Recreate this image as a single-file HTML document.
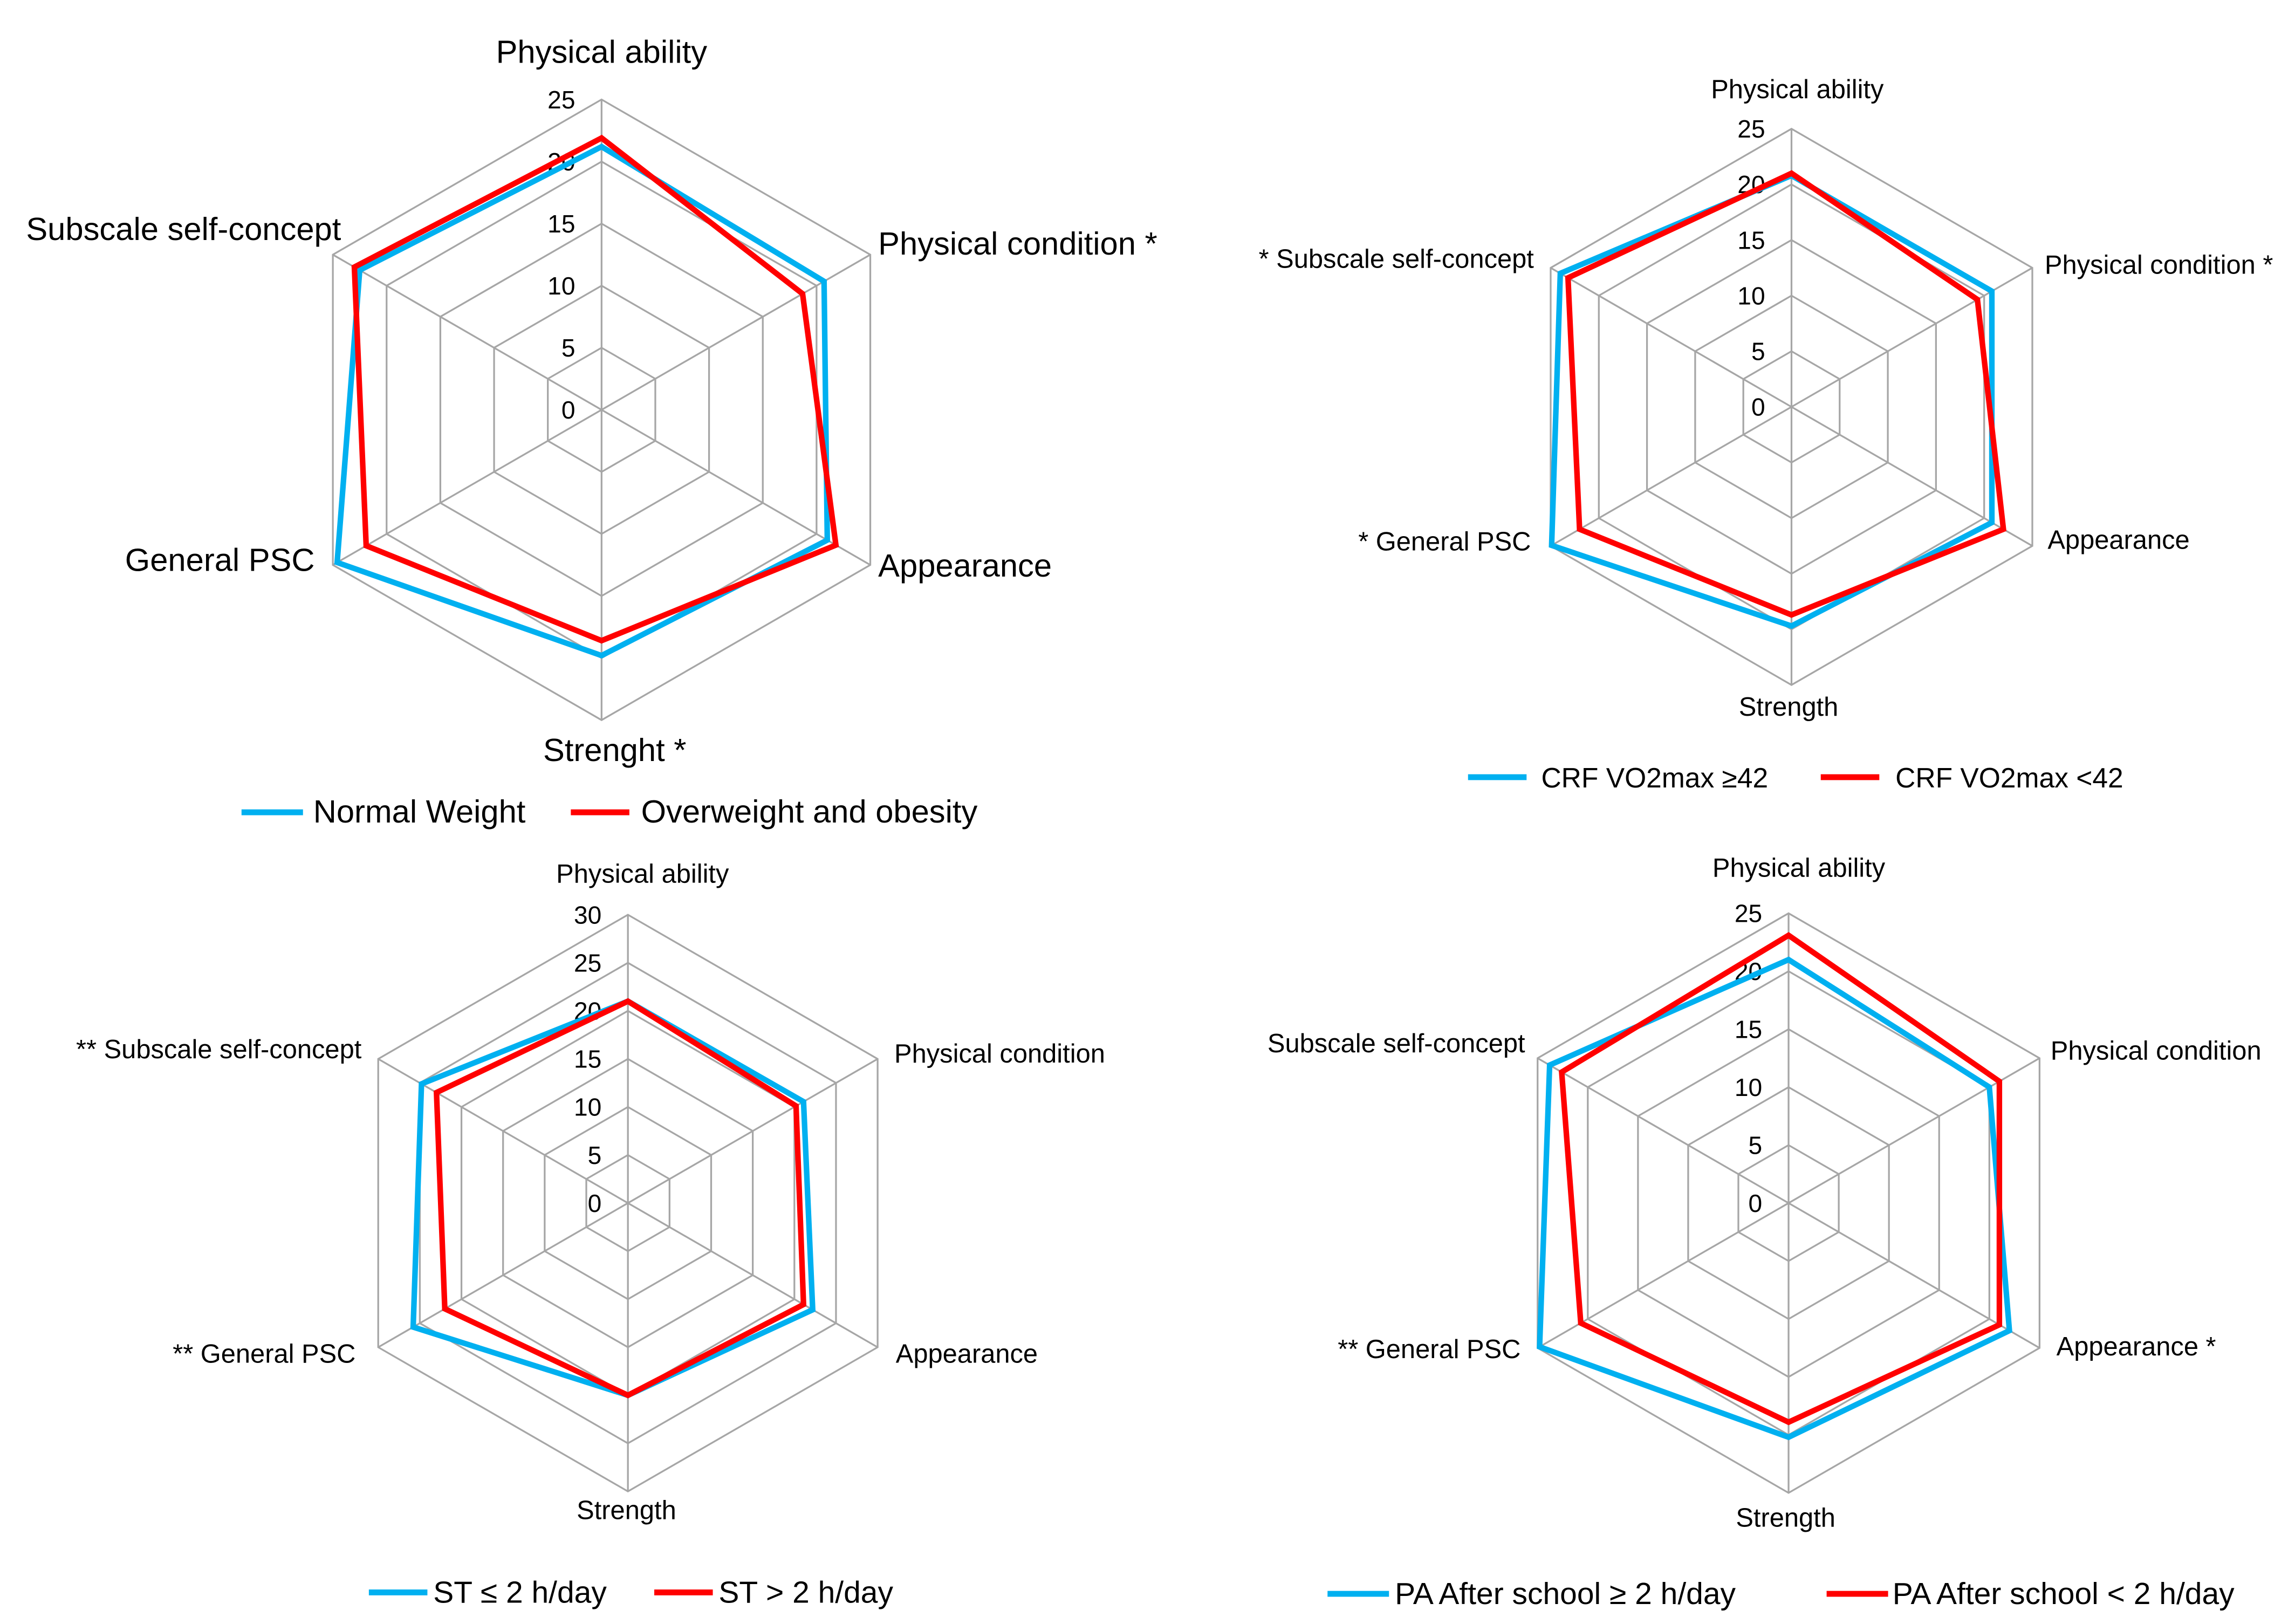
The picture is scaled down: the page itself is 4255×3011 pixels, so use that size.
<!DOCTYPE html>
<html><head><meta charset="utf-8"><style>
html,body{margin:0;padding:0;background:#fff;}
svg{display:block;font-family:"Liberation Sans",Arial,sans-serif;}
</style></head><body>
<svg id="c" width="4255" height="3011" viewBox="0 0 1568 1109.6" xmlns="http://www.w3.org/2000/svg"></svg>
<script>
const axesNames = ["Physical ability","Physical condition","Appearance","Strength","General PSC","Subscale self-concept"];
const c1Blue = [21.2,20.7,21.0,19.8,24.6,22.5];
const c1Red = [21.9,18.7,21.8,18.6,21.9,23.0];
const c2Blue = [20.8,20.8,20.8,19.7,24.9,24.0];
const c2Red = [21.0,19.3,22.0,18.7,22.0,23.2];
const c3Blue = [21.0,21.1,22.2,20.0,25.8,24.8];
const c3Red = [21.0,20.2,21.1,20.0,22.0,23.0];
const c4Blue = [21.0,20.0,22.0,20.2,24.8,23.8];
const c4Red = [23.1,21.0,21.0,18.9,20.7,22.6];
const ticks25 = ["0","5","10","15","20","25"];
const ticks30 = ["0","5","10","15","20","25","30"];
const ns="http://www.w3.org/2000/svg";
const svg=document.getElementById('c');
function mk(t,a,p){const e=document.createElementNS(ns,t);for(const k in a)e.setAttribute(k,a[k]);(p||svg).appendChild(e);return e;}
const angs=[-90,-30,30,90,150,210].map(d=>d*Math.PI/180);
function drawChart(id,cx,cy,R,max,ticks,blue,red,labels,fs,legend){
  const g=mk('g',{});
  
  
  const n=ticks.length-1;
  for(let i=1;i<=n;i++){
    const r=R*i/n;
    const p=mk('polygon',{points:angs.map(a=>(cx+r*Math.cos(a))+','+(cy+r*Math.sin(a))).join(' '),fill:'none',stroke:'#a6a6a6','stroke-width':1.2},g);
    
    
  }
  angs.forEach(a=>{const l=mk('line',{x1:cx,y1:cy,x2:cx+R*Math.cos(a),y2:cy+R*Math.sin(a),stroke:'#a6a6a6','stroke-width':1.2},g);
    });
  ticks.forEach((t,i)=>{const tx=mk('text',{x:cx-18,y:cy-R*i/n+6,'text-anchor':'end','font-size':17,fill:'#000'},g);tx.textContent=t;
    });
  [[blue,'#00b0f0'],[red,'#ff0000']].forEach(([d,col],si)=>{
    const pts=d.map((v,i)=>{const r=R*v/max;return (cx+r*Math.cos(angs[i]))+','+(cy+r*Math.sin(angs[i]));}).join(' ');
    const p=mk('polygon',{points:pts,fill:'none',stroke:col,'stroke-width':3.8,'stroke-linejoin':'miter'},g);
    
    
  });
  labels.forEach(L=>{const tx=mk('text',{x:L[1],y:L[2],'text-anchor':L[3],'font-size':fs,fill:'#000'},g);tx.textContent=L[0];
    });
  legend.forEach(L=>{
    const ln=mk('line',{x1:L[0],y1:L[2],x2:L[1],y2:L[2],stroke:L[4],'stroke-width':4},g);
    
    const tx=mk('text',{x:L[1]+L[6],y:L[2]+7,'font-size':L[5],fill:'#000'},g);tx.textContent=L[3];
    
  });
}
drawChart('chart-weight',411,280,212,25,ticks25,c1Blue,c1Red,[
 ["Physical ability",411,43,'middle'],["Physical condition *",600,174,'start'],["Appearance",600,394,'start'],
 ["Strenght *",420,520,'middle'],["General PSC",215,390,'end'],["Subscale self-concept",233,164,'end']],22,
 [[165,207,555,"Normal Weight",'#00b0f0',22,7],[390,430,555,"Overweight and obesity",'#ff0000',22,8]]);
drawChart('chart-crf',1224,278,190,25,ticks25,c2Blue,c2Red,[
 ["Physical ability",1228,67,'middle'],["Physical condition *",1397,187,'start'],["Appearance",1399,375,'start'],
 ["Strength",1222,489,'middle'],["* General PSC",1046,376,'end'],["* Subscale self-concept",1048,183,'end']],18,
 [[1003,1043,531,"CRF VO2max ≥42",'#00b0f0',19,10],[1244,1284,531,"CRF VO2max <42",'#ff0000',19,11]]);
drawChart('chart-screen-time',429,822,197,30,ticks30,c3Blue,c3Red,[
 ["Physical ability",439,603,'middle'],["Physical condition",611,726,'start'],["Appearance",612,931,'start'],
 ["Strength",428,1038,'middle'],["** General PSC",243,931,'end'],["** Subscale self-concept",247,723,'end']],18,
 [[252,292,1088,"ST ≤ 2 h/day",'#00b0f0',21,4],[447,487,1088,"ST > 2 h/day",'#ff0000',21,4]]);
drawChart('chart-pa-after-school',1222,822,198,25,ticks25,c4Blue,c4Red,[
 ["Physical ability",1229,599,'middle'],["Physical condition",1401,724,'start'],["Appearance *",1405,926,'start'],
 ["Strength",1220,1043,'middle'],["** General PSC",1039,928,'end'],["Subscale self-concept",1042,719,'end']],18,
 [[907,949,1089,"PA After school ≥ 2 h/day",'#00b0f0',21,4],[1248,1290,1089,"PA After school < 2 h/day",'#ff0000',21,3]]);
</script>
</body></html>
